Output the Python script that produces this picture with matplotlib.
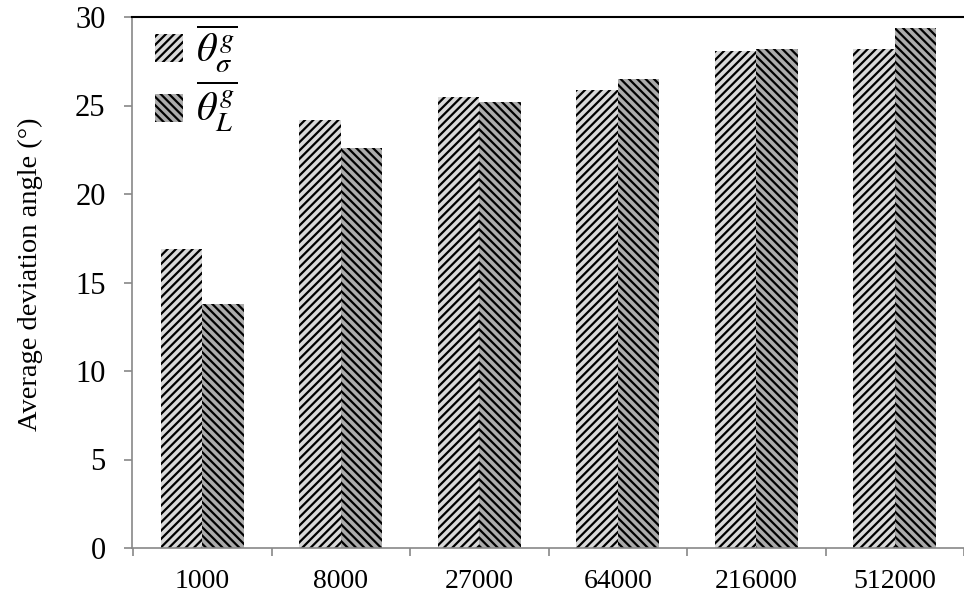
import numpy as np
import matplotlib
matplotlib.use("Agg")
import matplotlib.pyplot as plt

# donnees
categories = ["1000", "8000", "27000", "64000", "216000", "512000"]
theta_sigma = [16.9, 24.2, 25.5, 25.9, 28.1, 28.2]
theta_L = [13.8, 22.6, 25.2, 26.5, 28.2, 29.4]
labels = [r"$\overline{\theta_{\sigma}^{g}}$", r"$\overline{\theta_{L}^{g}}$"]

plt.rcParams["font.family"] = "Liberation Serif"
plt.rcParams["mathtext.fontset"] = "stix"
plt.rcParams["hatch.linewidth"] = 1.6
plt.rcParams["hatch.color"] = "black"

fig = plt.figure(figsize=(9.64, 6.04), dpi=100)
ax = fig.add_axes([132 / 964, 1 - 548 / 604, (964 - 132) / 964, (548 - 17) / 604])

x = np.arange(len(categories))
w = 0.3
ax.bar(x - w, theta_sigma, width=w, align="edge", color="#d9d9d9",
       edgecolor="black", linewidth=0, hatch="////", label=labels[0])
ax.bar(x, theta_L, width=w, align="edge", color="#ababab",
       edgecolor="black", linewidth=0, hatch="\\\\\\\\", label=labels[1])

ax.set_ylim(0, 30)
ax.set_xlim(-0.508, (964 - 132) / 139.8 - 0.508)
ax.set_yticks(range(0, 31, 5))
ax.set_xticks(x)
ax.set_xticklabels(categories)
ax.set_xticks(np.arange(-0.5, 6, 1), minor=True)

ax.tick_params(axis="x", which="major", length=0, pad=15, labelsize=20)
ax.tick_params(axis="x", which="minor", length=6, width=1.2, color="#888888", direction="out")
ax.tick_params(axis="y", length=6, width=1.2, color="#888888", direction="out", pad=13, labelsize=22)

for s in ["left", "bottom"]:
    ax.spines[s].set_color("#888888")
    ax.spines[s].set_linewidth(1.2)
ax.spines["right"].set_visible(False)
ax.spines["top"].set_color("black")
ax.spines["top"].set_linewidth(1.5)

ax.set_ylabel("Average deviation angle (°)", fontsize=20.5)
ax.yaxis.set_label_coords((43 - 132) / 832, 0.515)

leg = ax.legend(loc="upper left", bbox_to_anchor=(0.028, 0.99), frameon=False,
                fontsize=29, handlelength=0.7, handleheight=0.7, borderpad=0,
                borderaxespad=0, labelspacing=0.12, handletextpad=0.3)

fig.savefig("out.png", dpi=100)
